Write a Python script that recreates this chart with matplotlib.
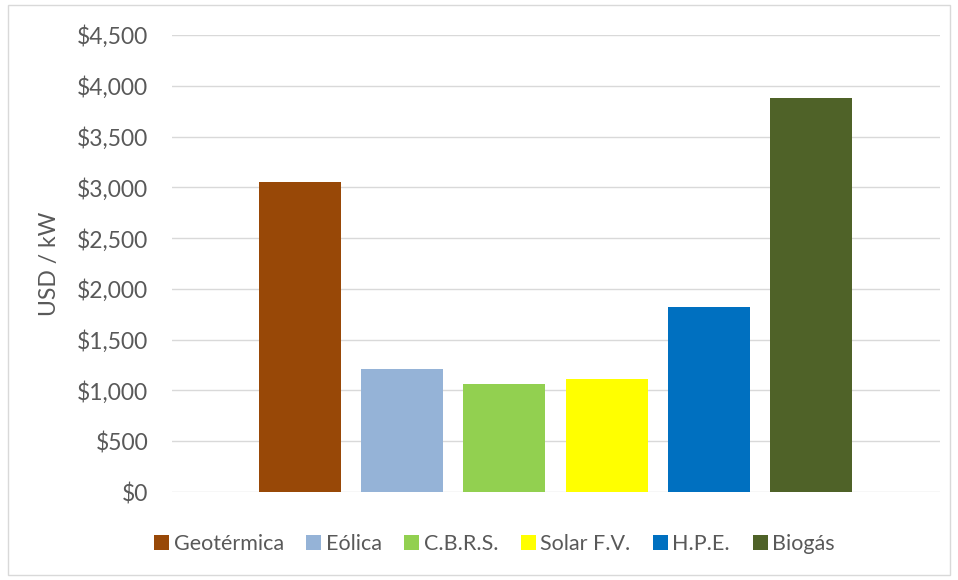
import matplotlib.pyplot as plt
from matplotlib.patches import Rectangle, Patch
from matplotlib.ticker import FuncFormatter

# datos
tecnologias = ['Geotérmica', 'Eólica', 'C.B.R.S.', 'Solar F.V.', 'H.P.E.', 'Biogás']
costos = [3050, 1215, 1060, 1110, 1825, 3880]
colores = ['#984807', '#95B3D7', '#92D050', '#FFFF00', '#0070C0', '#4F6228']

plt.rcParams['font.family'] = ['Lato', 'DejaVu Sans']

fig = plt.figure(figsize=(9.58, 5.8), dpi=100)
ax = fig.add_axes([0.1795, 0.1517, 0.8017, 0.788])

x = list(range(len(tecnologias)))
ax.bar(x, costos, width=0.8, color=colores, zorder=3)

ax.set_ylim(0, 4500)
ax.set_xlim(-1.25, 6.26)
ax.set_yticks(range(0, 4501, 500))
ax.yaxis.set_major_formatter(FuncFormatter(lambda v, p: '${:,.0f}'.format(v)))
ax.set_xticks([])
ax.grid(axis='y', color='#d9d9d9', linewidth=1, zorder=0)
for s in ax.spines.values():
    s.set_visible(False)
ax.tick_params(axis='y', length=0, pad=17, labelsize=16.5, labelcolor='#595959')
ax.set_ylabel('USD / kW', fontsize=16.5, color='#595959', labelpad=12)

handles = [Patch(facecolor=c) for c in colores]
fig.legend(handles, tecnologias, loc='center', bbox_to_anchor=(0.516, 1 - 544 / 580),
           ncol=6, frameon=False, fontsize=15.5, labelcolor='#595959',
           handlelength=0.7, handleheight=0.7, handletextpad=0.2, columnspacing=1.05)

# borde del grafico
fig.patches.append(Rectangle((8 / 958, 5 / 580), 942 / 958, 570 / 580, transform=fig.transFigure,
                             fill=False, edgecolor='#d9d9d9', linewidth=1))

fig.savefig('out.png', dpi=100)
